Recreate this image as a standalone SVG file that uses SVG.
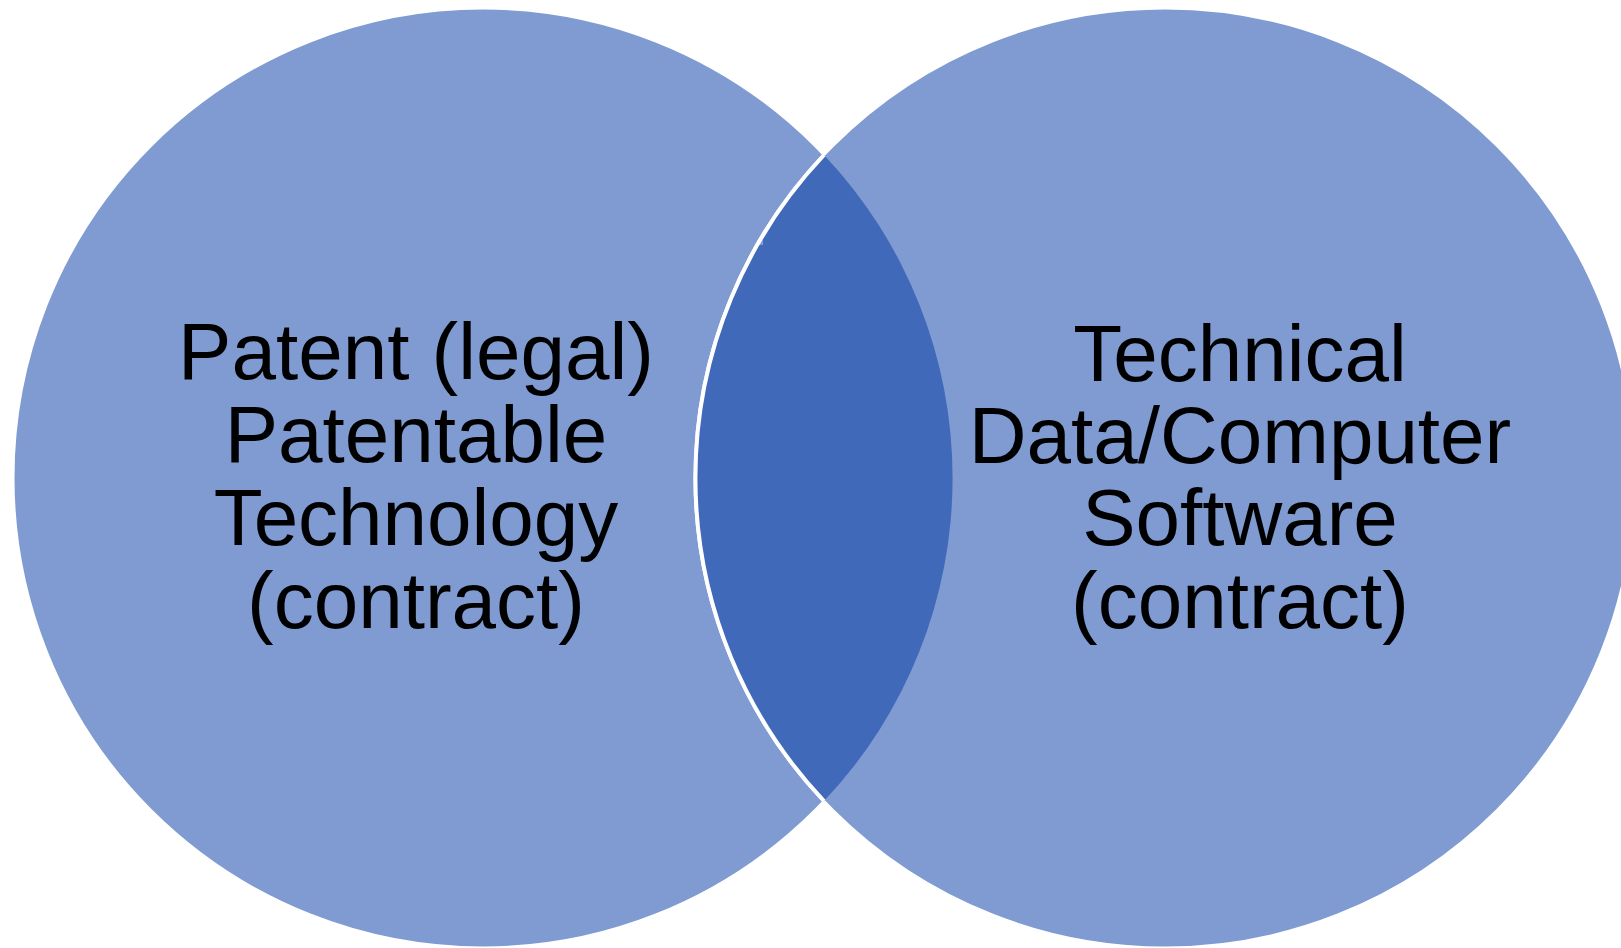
<svg xmlns="http://www.w3.org/2000/svg" width="1621" height="948" viewBox="0 0 1621 948">
<style>
.c{fill:#7F9BD2;stroke:#FFFFFF;stroke-width:3}
.lens{fill:#4169B9;stroke:none}
.edge{fill:none;stroke:#FFFFFF;stroke-width:4}
.t{font-family:"Liberation Sans",Arial,sans-serif;font-size:80px;fill:#000000;text-anchor:middle}
</style>
<rect width="1621" height="948" fill="#FFFFFF"/>
<g id="circle-left">
<circle class="c" cx="483" cy="478" r="470"/>
</g>
<g id="circle-right">
<circle class="c" cx="1165" cy="478" r="470"/>
</g>
<g id="overlap">
<path class="lens" d="M824 155 A470 470 0 0 0 824 801 A470 470 0 0 0 824 155 Z"/>
<path class="edge" d="M824 155 A470 470 0 0 0 824 801"/>
</g>
<g id="label-left">
<text class="t" x="416" y="379">Patent (legal)</text>
<text class="t" x="416" y="462">Patentable</text>
<text class="t" x="416" y="545">Technology</text>
<text class="t" x="416" y="628">(contract)</text>
</g>
<g id="label-right">
<text class="t" x="1240" y="381">Technical</text>
<text class="t" x="1240" y="463">Data/Computer</text>
<text class="t" x="1240" y="545">Software</text>
<text class="t" x="1240" y="628">(contract)</text>
</g>
</svg>
